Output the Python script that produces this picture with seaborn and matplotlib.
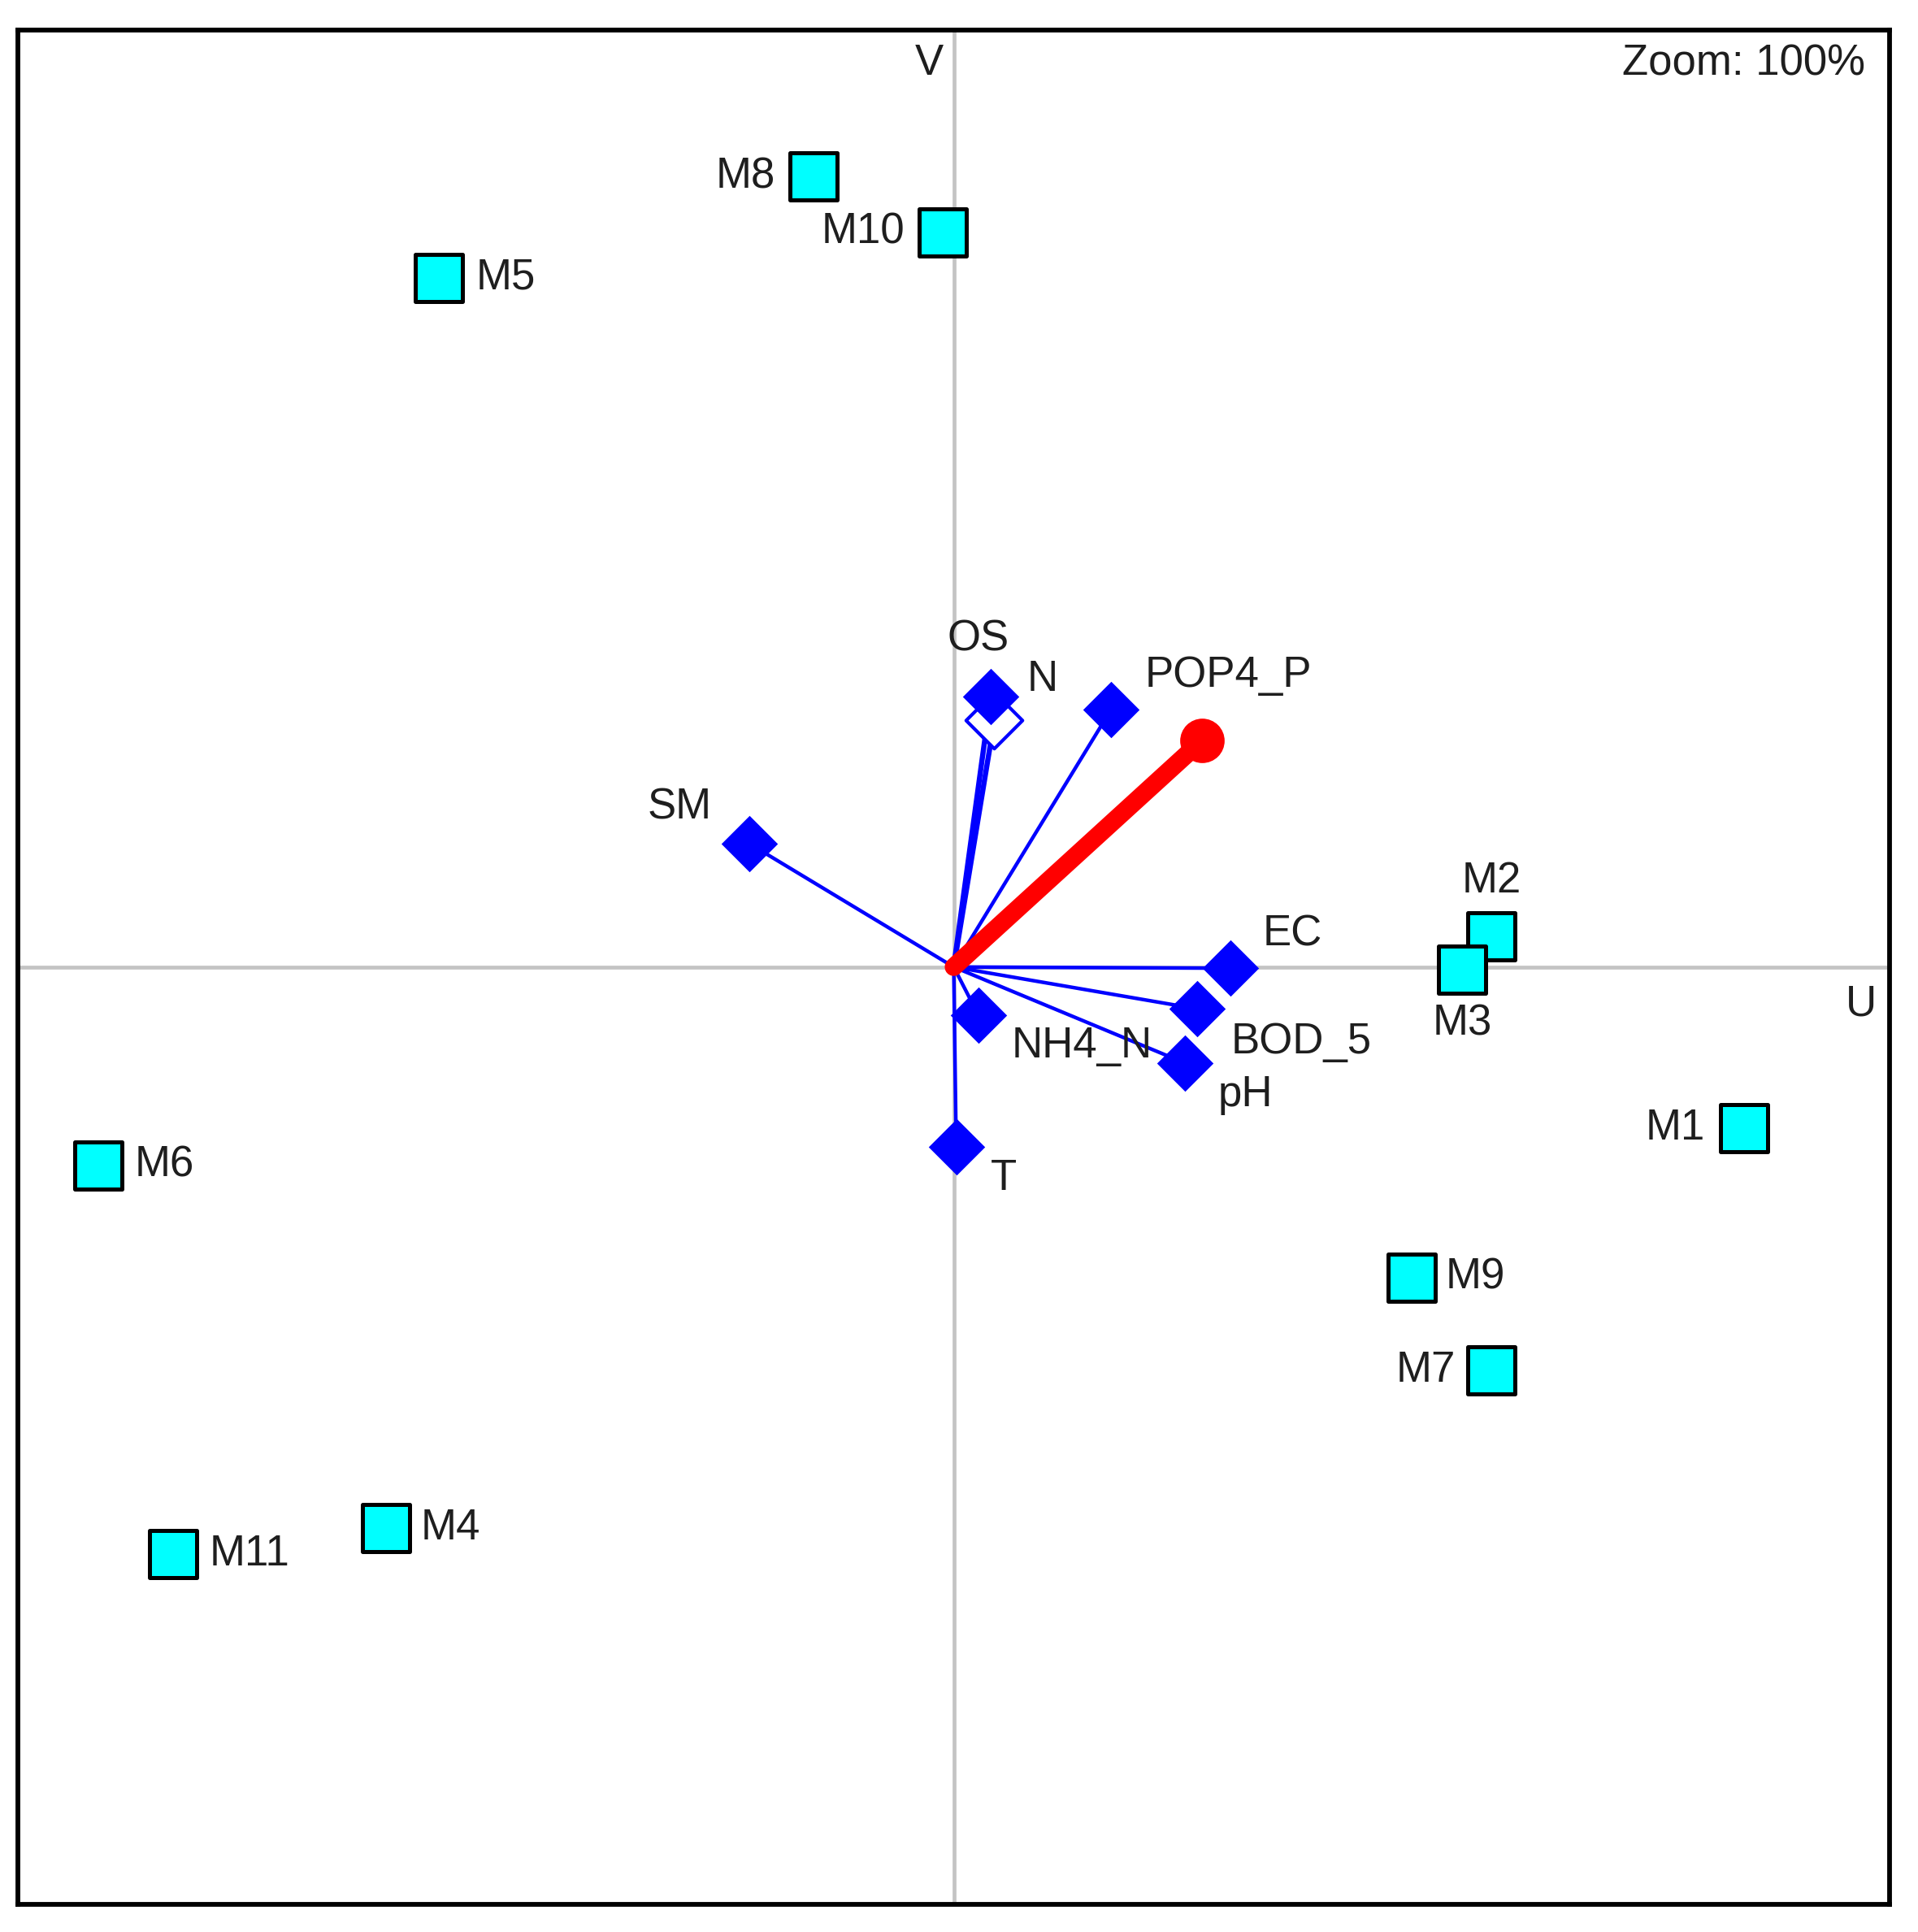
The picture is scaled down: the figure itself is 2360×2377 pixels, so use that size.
import matplotlib
matplotlib.use("Agg")
import matplotlib.pyplot as plt
import seaborn as sns
import pandas as pd

# ---- data (ordination scores, arbitrary units) ----
site_names = ["M1", "M2", "M3", "M4", "M5", "M6", "M7", "M8", "M9", "M10", "M11"]
site_u = [6.42, 4.37, 4.13, -4.61, -4.18, -6.95, 4.37, -1.14, 3.72, -0.09, -6.34]
site_v = [-1.31, 0.25, -0.02, -4.55, 5.59, -1.61, -3.27, 6.41, -2.52, 5.96, -4.76]

env_names = ["OS", "N", "POP4_P", "SM", "EC", "BOD_5", "pH", "NH4_N", "T"]
env_u = [0.30, 0.33, 1.28, -1.66, 2.25, 1.98, 1.88, 0.20, 0.02]
env_v = [2.19, 2.00, 2.09, 1.00, -0.01, -0.34, -0.78, -0.39, -1.46]

resp_u = [2.02]
resp_v = [1.84]

axis_u_label = "U"
axis_v_label = "V"
zoom_text = "Zoom: 100%"

sites = pd.DataFrame({"name": site_names, "u": site_u, "v": site_v})
env = pd.DataFrame({"name": env_names, "u": env_u, "v": env_v})
resp = pd.DataFrame({"u": resp_u, "v": resp_v})

# ---- styling ----
sns.set_style("white")
plt.rcParams["font.family"] = ["Liberation Sans", "DejaVu Sans"]
FS = 38

fig = plt.figure(figsize=(23.60, 23.77), dpi=100)
ax = fig.add_axes([0.0095, 0.0145, 0.9755, 0.9700])
ax.set_xlim(-7.6, 7.6)
ax.set_ylim(-7.6, 7.6)
ax.set_xticks([])
ax.set_yticks([])
for sp in ax.spines.values():
    sp.set_color("black")
    sp.set_linewidth(4.2)
    sp.set_visible(True)

# origin axes
ax.axhline(0, color="#c4c4c4", lw=3.4, zorder=1)
ax.axvline(0, color="#c4c4c4", lw=3.4, zorder=1)

# environmental vectors
for i, r in env.iterrows():
    lw = 4.6 if r["name"] in ("OS", "N") else 3.2
    ax.plot([0, r["u"]], [0, r["v"]], color="#0000ff", lw=lw, zorder=2,
            solid_capstyle="butt")

hollow = env[env["name"] == "N"]
filled = env[env["name"] != "N"]
sns.scatterplot(data=hollow, x="u", y="v", marker="D", s=1250,
                facecolor="white", edgecolor="#0000ff", linewidth=3,
                ax=ax, zorder=3, legend=False)
sns.scatterplot(data=filled, x="u", y="v", marker="D", s=1250,
                color="#0000ff", edgecolor="#0000ff", linewidth=0,
                ax=ax, zorder=4, legend=False)

# response vector (red)
ax.plot([0, resp_u[0]], [0, resp_v[0]], color="#ff0000", lw=16,
        solid_capstyle="round", zorder=5)
sns.scatterplot(data=resp, x="u", y="v", marker="o", s=1550,
                color="#ff0000", linewidth=0, ax=ax, zorder=6, legend=False)

# sites
sns.scatterplot(data=sites, x="u", y="v", marker="s", s=1700,
                color="#00ffff", edgecolor="black", linewidth=3.6,
                ax=ax, zorder=7, legend=False)

# label offsets in pixels (dx, dy, ha)
site_off = {
    "M1": (-48, 0, "right"), "M2": (0, 68, "center"), "M3": (0, -67, "center"),
    "M4": (42, 0, "left"), "M5": (45, 0, "left"), "M6": (45, 0, "left"),
    "M7": (-44, 0, "right"), "M8": (-47, 0, "right"), "M9": (42, 0, "left"),
    "M10": (-47, 0, "right"), "M11": (44, 0, "left"),
}
for _, r in sites.iterrows():
    dx, dy, ha = site_off[r["name"]]
    ax.annotate(r["name"], (r["u"], r["v"]), xytext=(dx, dy),
                textcoords="offset pixels", ha=ha, va="center",
                fontsize=FS, color="#1e1e1e", zorder=8)

env_off = {
    "OS": (-15, 71, "center"), "N": (59, 50, "center"),
    "POP4_P": (41, 42, "left"), "SM": (-86, 44, "center"),
    "EC": (76, 42, "center"), "BOD_5": (41, -41, "left"),
    "pH": (74, -39, "center"), "NH4_N": (41, -38, "left"),
    "T": (58, -39, "center"),
}
for _, r in env.iterrows():
    dx, dy, ha = env_off[r["name"]]
    ax.annotate(r["name"], (r["u"], r["v"]), xytext=(dx, dy),
                textcoords="offset pixels", ha=ha, va="center",
                fontsize=FS, color="#1e1e1e", zorder=8)

ax.text(0.487, 0.982, axis_v_label, transform=ax.transAxes, ha="center",
        va="center", fontsize=FS, color="#1e1e1e")
ax.text(0.985, 0.480, axis_u_label, transform=ax.transAxes, ha="center",
        va="center", fontsize=FS, color="#1e1e1e")
ax.text(0.987, 0.982, zoom_text, transform=ax.transAxes, ha="right",
        va="center", fontsize=FS, color="#1e1e1e")

ax.set_xlabel("")
ax.set_ylabel("")
fig.savefig("out.png", dpi=100, facecolor="white")
